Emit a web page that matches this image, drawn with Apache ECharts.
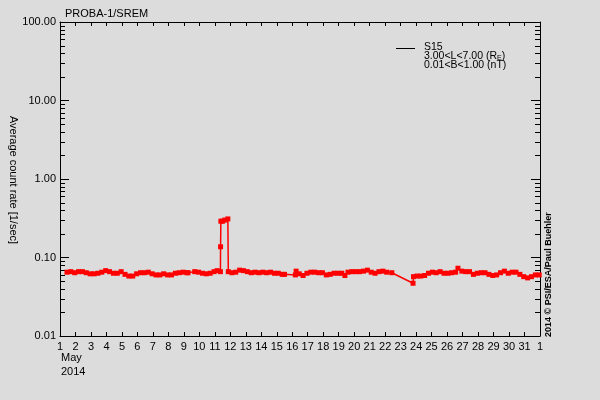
<!DOCTYPE html>
<html><head><meta charset="utf-8">
<script src="https://cdn.jsdelivr.net/npm/echarts@6/dist/echarts.min.js"></script>
<style>html,body{margin:0;padding:0;background:#dcdcdc}#c{width:600px;height:400px}</style>
</head><body><div id="c"></div>
<script>
const title = 'PROBA-1/SREM';
const yName = 'Average count rate [1/sec]';
const credit = '2014 \u00a9 PSI/ESA/Paul Buehler';
const legendLines = ['S15', '3.00<L<7.00 (R{sub|E})', '0.01<B<1.00 (nT)'];
const xTickLabels = ['1','2','3','4','5','6','7','8','9','10','11','12','13','14','15','16','17','18','19','20','21','22','23','24','25','26','27','28','29','30','31','1'];
const xSubLabel = 'May\n2014';
const yMinorValues = [0.02,0.03,0.04,0.05,0.06,0.07,0.08,0.09,0.2,0.3,0.4,0.5,0.6,0.7,0.8,0.9,2,3,4,5,6,7,8,9,20,30,40,50,60,70,80,90];

const days = [1.45,1.7,1.95,2.2,2.45,2.7,2.95,3.2,3.45,3.7,3.95,4.2,4.45,4.7,4.95,5.2,5.45,5.7,5.95,6.2,6.45,6.7,6.95,7.2,7.45,7.7,7.95,8.2,8.45,8.7,8.95,9.2,9.27,
  9.7,9.95,10.2,10.45,10.7,10.95,11.15,11.36,11.37,11.39,11.5,11.65,11.84,11.87,12.1,12.35,12.6,12.85,13.1,13.35,13.6,13.85,14.1,14.35,14.6,14.85,15.1,15.35,15.5,
  16.2,16.25,16.45,16.7,16.95,17.2,17.45,17.7,17.95,18.2,18.45,18.7,18.95,19.2,19.4,19.6,19.85,20.1,20.35,20.6,20.85,21.1,21.35,21.6,21.85,22.1,22.43,
  23.8,23.83,24.05,24.3,24.55,24.8,25.05,25.3,25.55,25.8,26.05,26.3,26.55,26.7,26.95,27.2,27.45,27.7,27.95,28.2,28.45,28.7,28.95,29.2,29.45,29.7,29.95,30.2,30.45,30.7,30.95,31.2,31.45,31.7,31.95];
const rates = [0.065,0.066,0.064,0.066,0.066,0.064,0.062,0.062,0.063,0.065,0.068,0.066,0.063,0.063,0.066,0.061,0.058,0.058,0.062,0.064,0.064,0.065,0.062,0.060,0.060,0.062,0.060,0.060,0.063,0.064,0.065,0.064,0.064,
  0.066,0.065,0.063,0.062,0.063,0.066,0.068,0.066,0.137,0.29,0.29,0.30,0.31,0.066,0.064,0.065,0.069,0.068,0.066,0.064,0.065,0.064,0.065,0.064,0.065,0.063,0.063,0.061,0.061,
  0.060,0.067,0.062,0.059,0.063,0.065,0.065,0.064,0.064,0.060,0.061,0.063,0.063,0.063,0.059,0.065,0.066,0.066,0.066,0.067,0.069,0.065,0.063,0.066,0.067,0.065,0.064,
  0.047,0.057,0.058,0.058,0.059,0.063,0.065,0.064,0.066,0.063,0.063,0.064,0.065,0.073,0.067,0.066,0.066,0.061,0.063,0.064,0.064,0.061,0.059,0.060,0.064,0.067,0.063,0.065,0.065,0.061,0.057,0.055,0.057,0.060,0.060];

const FONT = 'Liberation Sans';
const chart = echarts.init(document.getElementById('c'));
const seriesData = days.map((d, i) => [d, rates[i]]);
const axisLine = {show: true, lineStyle: {color: '#000', width: 1}};
chart.setOption({
  backgroundColor: '#dcdcdc',
  animation: false,
  textStyle: {fontFamily: FONT},
  title: {text: title, left: 60, top: 3, textStyle: {fontFamily: FONT, fontSize: 11, fontWeight: 'normal', color: '#000'}},
  grid: {left: 60, right: 60, top: 22, bottom: 64, containLabel: false, outerBoundsMode: 'none'},
  xAxis: [
    {type: 'value', min: 1, max: 32, interval: 1, position: 'bottom', axisLine,
     axisTick: {inside: true, length: 4, lineStyle: {color: '#000'}}, splitLine: {show: false},
     axisLabel: {color: '#000', fontSize: 11, fontFamily: FONT, margin: 5, formatter: v => xTickLabels[Math.round(v) - 1]}},
    {type: 'value', min: 1, max: 32, interval: 1, position: 'top', axisLine,
     axisTick: {inside: true, length: 4, lineStyle: {color: '#000'}}, splitLine: {show: false}, axisLabel: {show: false}}
  ],
  yAxis: [
    {type: 'log', logBase: 10, min: 0.01, max: 100, position: 'left', axisLine,
     axisTick: {inside: true, length: 9, lineStyle: {color: '#000'}}, splitLine: {show: false},
     axisLabel: {color: '#000', fontSize: 11, fontFamily: FONT, margin: 4, formatter: v => v.toFixed(2)}},
    {type: 'log', logBase: 10, min: 0.01, max: 100, position: 'right', axisLine,
     axisTick: {inside: true, length: 9, lineStyle: {color: '#000'}}, splitLine: {show: false}, axisLabel: {show: false}}
  ],
  series: [{
    type: 'line', data: seriesData, xAxisIndex: 0, yAxisIndex: 0,
    symbol: 'rect', symbolSize: 5, showAllSymbol: true,
    itemStyle: {color: '#ff0000'}, lineStyle: {color: '#ff0000', width: 1.5}
  }]
});

const g = [];
const xl = chart.convertToPixel({xAxisIndex: 0}, 1);
const xr = chart.convertToPixel({xAxisIndex: 0}, 32);
yMinorValues.forEach(v => {
  const y = Math.round(chart.convertToPixel({yAxisIndex: 0}, v)) + 0.5;
  g.push({type: 'line', shape: {x1: xl, y1: y, x2: xl + 5, y2: y}, style: {stroke: '#000', lineWidth: 1}});
  g.push({type: 'line', shape: {x1: xr - 5, y1: y, x2: xr, y2: y}, style: {stroke: '#000', lineWidth: 1}});
});
g.push({type: 'text', x: 13, y: 180, rotation: -Math.PI / 2, style: {
  text: yName, font: '11px ' + FONT, fill: '#000', textAlign: 'center', verticalAlign: 'middle'
}});
g.push({type: 'text', left: 61, top: 351, style: {text: xSubLabel, font: '11px ' + FONT, fill: '#000', lineHeight: 14}});
g.push({type: 'line', shape: {x1: 396, y1: 48.5, x2: 415, y2: 48.5}, style: {stroke: '#000', lineWidth: 1}});
legendLines.forEach((t, i) => {
  g.push({type: 'text', x: 424, y: 47 + i * 9, style: {
    text: t, font: '10.5px ' + FONT, fill: '#000', verticalAlign: 'middle',
    rich: {sub: {fontSize: 7, fontFamily: FONT, verticalAlign: 'bottom', padding: [4, 0, 0, 0]}}
  }});
});
g.push({type: 'text', x: 553, y: 337, rotation: Math.PI / 2, style: {
  text: credit, font: 'bold 9px ' + FONT, fill: '#000', textAlign: 'left', verticalAlign: 'bottom'
}});
chart.setOption({graphic: g});
</script>
</body></html>
